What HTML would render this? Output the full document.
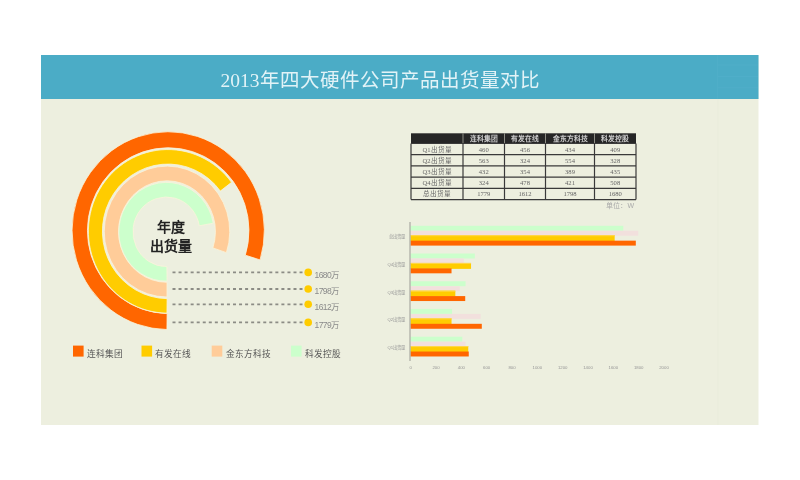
<!DOCTYPE html>
<html lang="zh-CN"><head><meta charset="utf-8">
<style>
html,body{margin:0;padding:0;background:#fff;}
body{width:800px;height:480px;overflow:hidden;position:relative;font-family:"Liberation Sans",sans-serif;}
svg{position:absolute;left:0;top:0;will-change:transform;}
.title{font-family:"Liberation Serif",serif;font-size:19.5px;fill:#E2F3F7;}
.ax{font-family:"Liberation Sans",sans-serif;font-size:4.3px;fill:#959595;}
.th{font-family:"Liberation Serif",serif;font-size:6.8px;font-weight:bold;fill:#cccccc;}
.td{font-family:"Liberation Serif",serif;font-size:6.6px;fill:#666;}
.lab{font-family:"Liberation Sans",sans-serif;font-size:8.5px;fill:#8a8a8a;letter-spacing:-0.6px;}
.leg{font-family:"Liberation Sans",sans-serif;font-size:8.7px;fill:#555;}
.ctr{font-family:"Liberation Sans",sans-serif;font-size:14px;font-weight:bold;fill:#222;}
.unit{font-family:"Liberation Sans",sans-serif;font-size:7px;fill:#aaa;}
</style></head>
<body>
<svg width="800" height="480" viewBox="0 0 800 480">
<rect x="41" y="55" width="717.5" height="370" fill="#EDEFDF"/>
<rect x="41" y="55" width="717.5" height="44" fill="#4BACC6"/>
<g stroke="#50AFC9" stroke-width="0.8" fill="none"><line x1="717.5" y1="55" x2="717.5" y2="99"/><line x1="718" y1="65" x2="758" y2="65"/><line x1="718" y1="76.6" x2="758" y2="76.6"/><line x1="718" y1="87.8" x2="758" y2="87.8"/></g>
<line x1="717.8" y1="99" x2="717.8" y2="425" stroke="#E9EBDA" stroke-width="0.8"/>
<text x="220.5" y="86.6" class="title">2013年四大硬件公司产品出货量对比</text>
<path d="M166.93,329.54 A96.15,98.90 0 0 1 111.65,150.66 A96.15,98.90 0 0 1 260.05,259.90 L245.34,255.16 A80.75,82.90 0 0 0 120.71,163.60 A80.75,82.90 0 0 0 167.13,313.54 Z" fill="#FF6600" stroke="#FAF4DA" stroke-width="0.8"/>
<path d="M166.94,313.14 A79.50,81.80 0 0 1 97.03,194.28 A79.50,81.80 0 0 1 231.56,182.35 L220.35,191.04 A65.50,67.30 0 0 0 109.51,200.85 A65.50,67.30 0 0 0 167.11,298.65 Z" fill="#FFCC00" stroke="#FAF4DA" stroke-width="0.8"/>
<path d="M167.00,297.00 A62.75,65.45 0 0 1 130.47,178.33 A62.75,65.45 0 0 1 226.40,252.64 L212.87,247.90 A48.45,50.75 0 0 0 138.80,190.29 A48.45,50.75 0 0 0 167.00,282.30 Z" fill="#FFCC99" stroke="#FAF4DA" stroke-width="0.8"/>
<path d="M167.08,281.19 A47.60,49.40 0 0 1 129.72,200.32 A47.60,49.40 0 0 1 213.28,223.22 L199.29,225.76 A33.40,34.80 0 0 0 140.66,209.62 A33.40,34.80 0 0 0 166.88,266.60 Z" fill="#CCFFCC" stroke="#FAF4DA" stroke-width="0.8"/>

<text x="170.5" y="232.2" text-anchor="middle" class="ctr">年度</text>
<text x="171" y="251.2" text-anchor="middle" class="ctr">出货量</text>
<line x1="172.5" y1="272.4" x2="302.5" y2="272.4" stroke="#8c8c85" stroke-width="1.8" stroke-dasharray="3 3.05"/>
<circle cx="308.2" cy="272.4" r="3.8" fill="#FFCC00"/>
<text x="314.6" y="277.60" class="lab">1680万</text>
<line x1="172.5" y1="289.0" x2="302.5" y2="289.0" stroke="#8c8c85" stroke-width="1.8" stroke-dasharray="3 3.05"/>
<circle cx="308.2" cy="289.0" r="3.8" fill="#FFCC00"/>
<text x="314.6" y="294.20" class="lab">1798万</text>
<line x1="172.5" y1="304.3" x2="302.5" y2="304.3" stroke="#8c8c85" stroke-width="1.8" stroke-dasharray="3 3.05"/>
<circle cx="308.2" cy="304.3" r="3.8" fill="#FFCC00"/>
<text x="314.6" y="309.50" class="lab">1612万</text>
<line x1="172.5" y1="322.4" x2="302.5" y2="322.4" stroke="#8c8c85" stroke-width="1.8" stroke-dasharray="3 3.05"/>
<circle cx="308.2" cy="322.4" r="3.8" fill="#FFCC00"/>
<text x="314.6" y="327.60" class="lab">1779万</text>

<rect x="73" y="345.6" width="10.6" height="11" fill="#FF6600"/>
<text x="86.8" y="357.1" class="leg">连科集团</text>
<rect x="141.5" y="345.6" width="10.6" height="11" fill="#FFCC00"/>
<text x="155.3" y="357.1" class="leg">有发在线</text>
<rect x="211.7" y="345.6" width="10.6" height="11" fill="#FFCC99"/>
<text x="225.5" y="357.1" class="leg">金东方科技</text>
<rect x="291" y="345.6" width="10.6" height="11" fill="#CCFFCC"/>
<text x="304.8" y="357.1" class="leg">科发控股</text>

<rect x="411" y="133.3" width="225" height="10.199999999999989" fill="#262626"/>
<line x1="463" y1="133.3" x2="463" y2="143.5" stroke="#9a9a90" stroke-width="0.9"/>
<line x1="504.5" y1="133.3" x2="504.5" y2="143.5" stroke="#9a9a90" stroke-width="0.9"/>
<line x1="545.5" y1="133.3" x2="545.5" y2="143.5" stroke="#9a9a90" stroke-width="0.9"/>
<line x1="594.5" y1="133.3" x2="594.5" y2="143.5" stroke="#9a9a90" stroke-width="0.9"/>
<text x="483.75" y="140.90" text-anchor="middle" class="th">连科集团</text>
<text x="525.00" y="140.90" text-anchor="middle" class="th">有发在线</text>
<text x="570.00" y="140.90" text-anchor="middle" class="th">金东方科技</text>
<text x="615.25" y="140.90" text-anchor="middle" class="th">科发控股</text>
<line x1="411" y1="143.5" x2="636" y2="143.5" stroke="#3a3a3a" stroke-width="1.2"/>
<line x1="411" y1="154.7" x2="636" y2="154.7" stroke="#3a3a3a" stroke-width="1.2"/>
<line x1="411" y1="165.9" x2="636" y2="165.9" stroke="#3a3a3a" stroke-width="1.2"/>
<line x1="411" y1="177.1" x2="636" y2="177.1" stroke="#3a3a3a" stroke-width="1.2"/>
<line x1="411" y1="188.3" x2="636" y2="188.3" stroke="#3a3a3a" stroke-width="1.2"/>
<line x1="411" y1="199.6" x2="636" y2="199.6" stroke="#3a3a3a" stroke-width="1.2"/>
<line x1="411" y1="143.5" x2="411" y2="199.6" stroke="#3a3a3a" stroke-width="1.2"/>
<line x1="463" y1="143.5" x2="463" y2="199.6" stroke="#3a3a3a" stroke-width="1.2"/>
<line x1="504.5" y1="143.5" x2="504.5" y2="199.6" stroke="#3a3a3a" stroke-width="1.2"/>
<line x1="545.5" y1="143.5" x2="545.5" y2="199.6" stroke="#3a3a3a" stroke-width="1.2"/>
<line x1="594.5" y1="143.5" x2="594.5" y2="199.6" stroke="#3a3a3a" stroke-width="1.2"/>
<line x1="636" y1="143.5" x2="636" y2="199.6" stroke="#3a3a3a" stroke-width="1.2"/>
<text x="437.00" y="151.50" text-anchor="middle" class="td">Q1出货量</text>
<text x="483.75" y="151.50" text-anchor="middle" class="td">460</text>
<text x="525.00" y="151.50" text-anchor="middle" class="td">456</text>
<text x="570.00" y="151.50" text-anchor="middle" class="td">434</text>
<text x="615.25" y="151.50" text-anchor="middle" class="td">409</text>
<text x="437.00" y="162.70" text-anchor="middle" class="td">Q2出货量</text>
<text x="483.75" y="162.70" text-anchor="middle" class="td">563</text>
<text x="525.00" y="162.70" text-anchor="middle" class="td">324</text>
<text x="570.00" y="162.70" text-anchor="middle" class="td">554</text>
<text x="615.25" y="162.70" text-anchor="middle" class="td">328</text>
<text x="437.00" y="173.90" text-anchor="middle" class="td">Q3出货量</text>
<text x="483.75" y="173.90" text-anchor="middle" class="td">432</text>
<text x="525.00" y="173.90" text-anchor="middle" class="td">354</text>
<text x="570.00" y="173.90" text-anchor="middle" class="td">389</text>
<text x="615.25" y="173.90" text-anchor="middle" class="td">435</text>
<text x="437.00" y="185.10" text-anchor="middle" class="td">Q4出货量</text>
<text x="483.75" y="185.10" text-anchor="middle" class="td">324</text>
<text x="525.00" y="185.10" text-anchor="middle" class="td">478</text>
<text x="570.00" y="185.10" text-anchor="middle" class="td">421</text>
<text x="615.25" y="185.10" text-anchor="middle" class="td">508</text>
<text x="437.00" y="196.30" text-anchor="middle" class="td">总出货量</text>
<text x="483.75" y="196.30" text-anchor="middle" class="td">1779</text>
<text x="525.00" y="196.30" text-anchor="middle" class="td">1612</text>
<text x="570.00" y="196.30" text-anchor="middle" class="td">1798</text>
<text x="615.25" y="196.30" text-anchor="middle" class="td">1680</text>

<text x="634" y="207.8" text-anchor="end" class="unit">单位：W</text>
<rect x="410.50" y="225.80" width="212.77" height="4.95" fill="#CCFFCC"/>
<rect x="410.50" y="230.75" width="227.72" height="4.95" fill="#F2E0DD"/>
<rect x="410.50" y="235.20" width="204.16" height="5.95" fill="#FFCC00"/>
<rect x="410.50" y="235.20" width="204.16" height="1" fill="#FFD84D"/>
<rect x="410.50" y="240.65" width="225.31" height="4.95" fill="#FF6600"/>
<rect x="410.50" y="253.52" width="64.34" height="4.95" fill="#CCFFCC"/>
<rect x="410.50" y="258.47" width="53.32" height="4.95" fill="#F2E0DD"/>
<rect x="410.50" y="262.92" width="60.54" height="5.95" fill="#FFCC00"/>
<rect x="410.50" y="262.92" width="60.54" height="1" fill="#FFD84D"/>
<rect x="410.50" y="268.37" width="41.03" height="4.95" fill="#FF6600"/>
<rect x="410.50" y="281.24" width="55.09" height="4.95" fill="#CCFFCC"/>
<rect x="410.50" y="286.19" width="49.27" height="4.95" fill="#F2E0DD"/>
<rect x="410.50" y="290.64" width="44.83" height="5.95" fill="#FFCC00"/>
<rect x="410.50" y="290.64" width="44.83" height="1" fill="#FFD84D"/>
<rect x="410.50" y="296.09" width="54.71" height="4.95" fill="#FF6600"/>
<rect x="410.50" y="308.96" width="41.54" height="4.95" fill="#CCFFCC"/>
<rect x="410.50" y="313.91" width="70.16" height="4.95" fill="#F2E0DD"/>
<rect x="410.50" y="318.36" width="41.03" height="5.95" fill="#FFCC00"/>
<rect x="410.50" y="318.36" width="41.03" height="1" fill="#FFD84D"/>
<rect x="410.50" y="323.81" width="71.30" height="4.95" fill="#FF6600"/>
<rect x="410.50" y="336.68" width="51.80" height="4.95" fill="#CCFFCC"/>
<rect x="410.50" y="341.63" width="54.97" height="4.95" fill="#F2E0DD"/>
<rect x="410.50" y="346.08" width="57.75" height="5.95" fill="#FFCC00"/>
<rect x="410.50" y="346.08" width="57.75" height="1" fill="#FFD84D"/>
<rect x="410.50" y="351.53" width="58.26" height="4.95" fill="#FF6600"/>

<line x1="410" y1="222" x2="410" y2="361" stroke="#A8A8A2" stroke-width="1.2"/>
<text x="405.2" y="238.10" text-anchor="end" class="ax">总出货量</text>
<text x="405.2" y="265.82" text-anchor="end" class="ax">Q4出货量</text>
<text x="405.2" y="293.54" text-anchor="end" class="ax">Q3出货量</text>
<text x="405.2" y="321.26" text-anchor="end" class="ax">Q2出货量</text>
<text x="405.2" y="348.98" text-anchor="end" class="ax">Q1出货量</text>

<text x="410.70" y="369.1" text-anchor="middle" class="ax">0</text>
<text x="436.03" y="369.1" text-anchor="middle" class="ax">200</text>
<text x="461.36" y="369.1" text-anchor="middle" class="ax">400</text>
<text x="486.69" y="369.1" text-anchor="middle" class="ax">600</text>
<text x="512.02" y="369.1" text-anchor="middle" class="ax">800</text>
<text x="537.35" y="369.1" text-anchor="middle" class="ax">1000</text>
<text x="562.68" y="369.1" text-anchor="middle" class="ax">1200</text>
<text x="588.01" y="369.1" text-anchor="middle" class="ax">1400</text>
<text x="613.34" y="369.1" text-anchor="middle" class="ax">1600</text>
<text x="638.67" y="369.1" text-anchor="middle" class="ax">1800</text>
<text x="664.00" y="369.1" text-anchor="middle" class="ax">2000</text>

</svg>
</body></html>
